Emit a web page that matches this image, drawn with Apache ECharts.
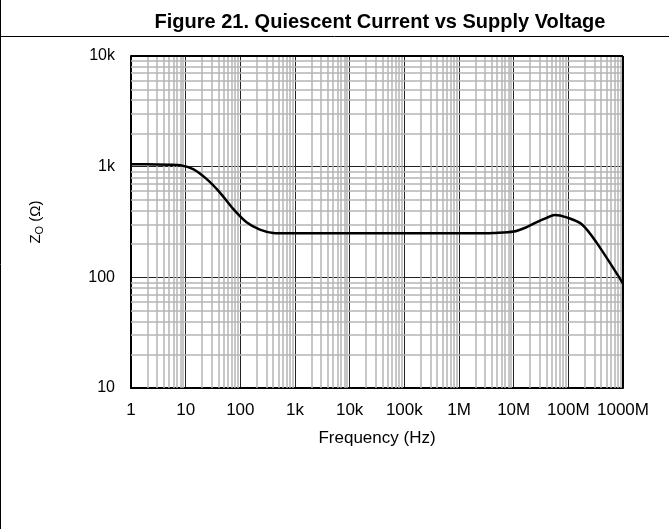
<!DOCTYPE html>
<html>
<head>
<meta charset="utf-8">
<script src="https://cdn.jsdelivr.net/npm/echarts@6/dist/echarts.min.js"></script>
<style>
html,body{margin:0;padding:0;background:#fff;}
#chart{width:669px;height:529px;}
</style>
</head>
<body>
<div id="chart"></div>
<script>
// ---- data ----
const titleText = 'Figure 21. Quiescent Current vs Supply Voltage';
const xAxisTitle = 'Frequency (Hz)';
const freqHz = [1, 3, 5, 8, 13.7, 24, 42, 74, 130, 228, 400, 700, 1e3, 1e4, 1e5, 1e6, 3e6, 4.2e6, 1e7, 1.7e7, 2.6e7, 4e7, 5.6e7, 9.3e7, 1.74e8, 3.26e8, 1e9];
const zoOhm  = [1050, 1048, 1042, 1030, 950, 775, 586, 415, 314, 270, 252, 250, 250, 250, 250, 250, 250, 251, 259, 283, 314, 344, 366, 348, 303, 207, 88];
const xTickLabels = ['1', '10', '100', '1k', '10k', '100k', '1M', '10M', '100M', '1000M'];
const yTickLabels = ['10', '100', '1k', '10k'];

// minor grid positions (2..9 per decade)
function minorList(loExp, hiExp) {
  const out = [];
  for (let e = loExp; e < hiExp; e++) {
    for (let m = 2; m <= 9; m++) out.push(m * Math.pow(10, e));
  }
  return out;
}
const minorX = minorList(0, 9);
const minorY = minorList(1, 4);

const chart = echarts.init(document.getElementById('chart'), null, {renderer: 'canvas'});
const font = 'Liberation Sans, Arial, sans-serif';

const option = {
  animation: false,
  backgroundColor: '#fff',
  textStyle: {fontFamily: font},
  title: {
    text: titleText,
    left: 375, top: 7, textAlign: 'center',
    textStyle: {fontSize: 20, fontWeight: 'bold', color: '#000', fontFamily: font}
  },
  graphic: [
    {type: 'line', shape: {x1: 0.5, y1: 0, x2: 0.5, y2: 529}, style: {stroke: '#000', lineWidth: 1}},
    {type: 'line', shape: {x1: 0, y1: 36.5, x2: 669, y2: 36.5}, style: {stroke: '#000', lineWidth: 1}}
  ],
  grid: {left: 131, top: 56, right: 46, bottom: 141, show: false},
  xAxis: {
    type: 'log', logBase: 10, min: 1, max: 1e9, splitNumber: 9,
    name: xAxisTitle, nameLocation: 'middle', nameGap: 42,
    nameTextStyle: {fontSize: 17, color: '#000', fontFamily: font},
    axisLine: {show: true, lineStyle: {color: '#000', width: 2}},
    axisTick: {show: false},
    axisLabel: {
      fontSize: 17, color: '#000', margin: 14, fontFamily: font,
      formatter: v => xTickLabels[Math.round(Math.log10(v))]
    },
    splitLine: {show: true, lineStyle: {color: '#222', width: 1}},
    minorTick: {show: false}, minorSplitLine: {show: false}
  },
  yAxis: {
    type: 'log', logBase: 10, min: 10, max: 1e4, splitNumber: 3,
    name: '{a|Z}{b|O}{a| (Ω)}', nameLocation: 'middle', nameGap: 86, nameRotate: 90,
    nameTextStyle: {
      color: '#000', fontFamily: font,
      rich: {
        a: {fontSize: 15, color: '#000', fontFamily: font},
        b: {fontSize: 11, color: '#000', fontFamily: font, verticalAlign: 'bottom', padding: [8, 0, 0, 0]}
      }
    },
    axisLine: {show: true, lineStyle: {color: '#000', width: 2}},
    axisTick: {show: false},
    axisLabel: {
      fontSize: 16, color: '#000', margin: 16, fontFamily: font,
      formatter: v => yTickLabels[Math.round(Math.log10(v)) - 1]
    },
    splitLine: {show: true, lineStyle: {color: '#222', width: 1}}
  },
  series: [
    {
      type: 'line', data: [], silent: true, z: 1,
      markLine: {
        silent: true, symbol: 'none', animation: false,
        label: {show: false},
        lineStyle: {color: '#b4b4b4', width: 1.5, type: 'solid'},
        data: minorX.map(v => ({xAxis: v})).concat(minorY.map(v => ({yAxis: v})))
      }
    },
    {
      type: 'line', z: 5,
      data: freqHz.map((f, i) => [f, zoOhm[i]]),
      smooth: 0.3, showSymbol: false,
      lineStyle: {color: '#000', width: 2.5}
    },
    {
      type: 'line', data: [], silent: true, z: 6,
      markLine: {
        silent: true, symbol: 'none', animation: false, label: {show: false},
        lineStyle: {color: '#000', width: 2, type: 'solid'},
        data: [{xAxis: 1e9}, {yAxis: 1e4}]
      }
    }
  ]
};
chart.setOption(option);
</script>
</body>
</html>
